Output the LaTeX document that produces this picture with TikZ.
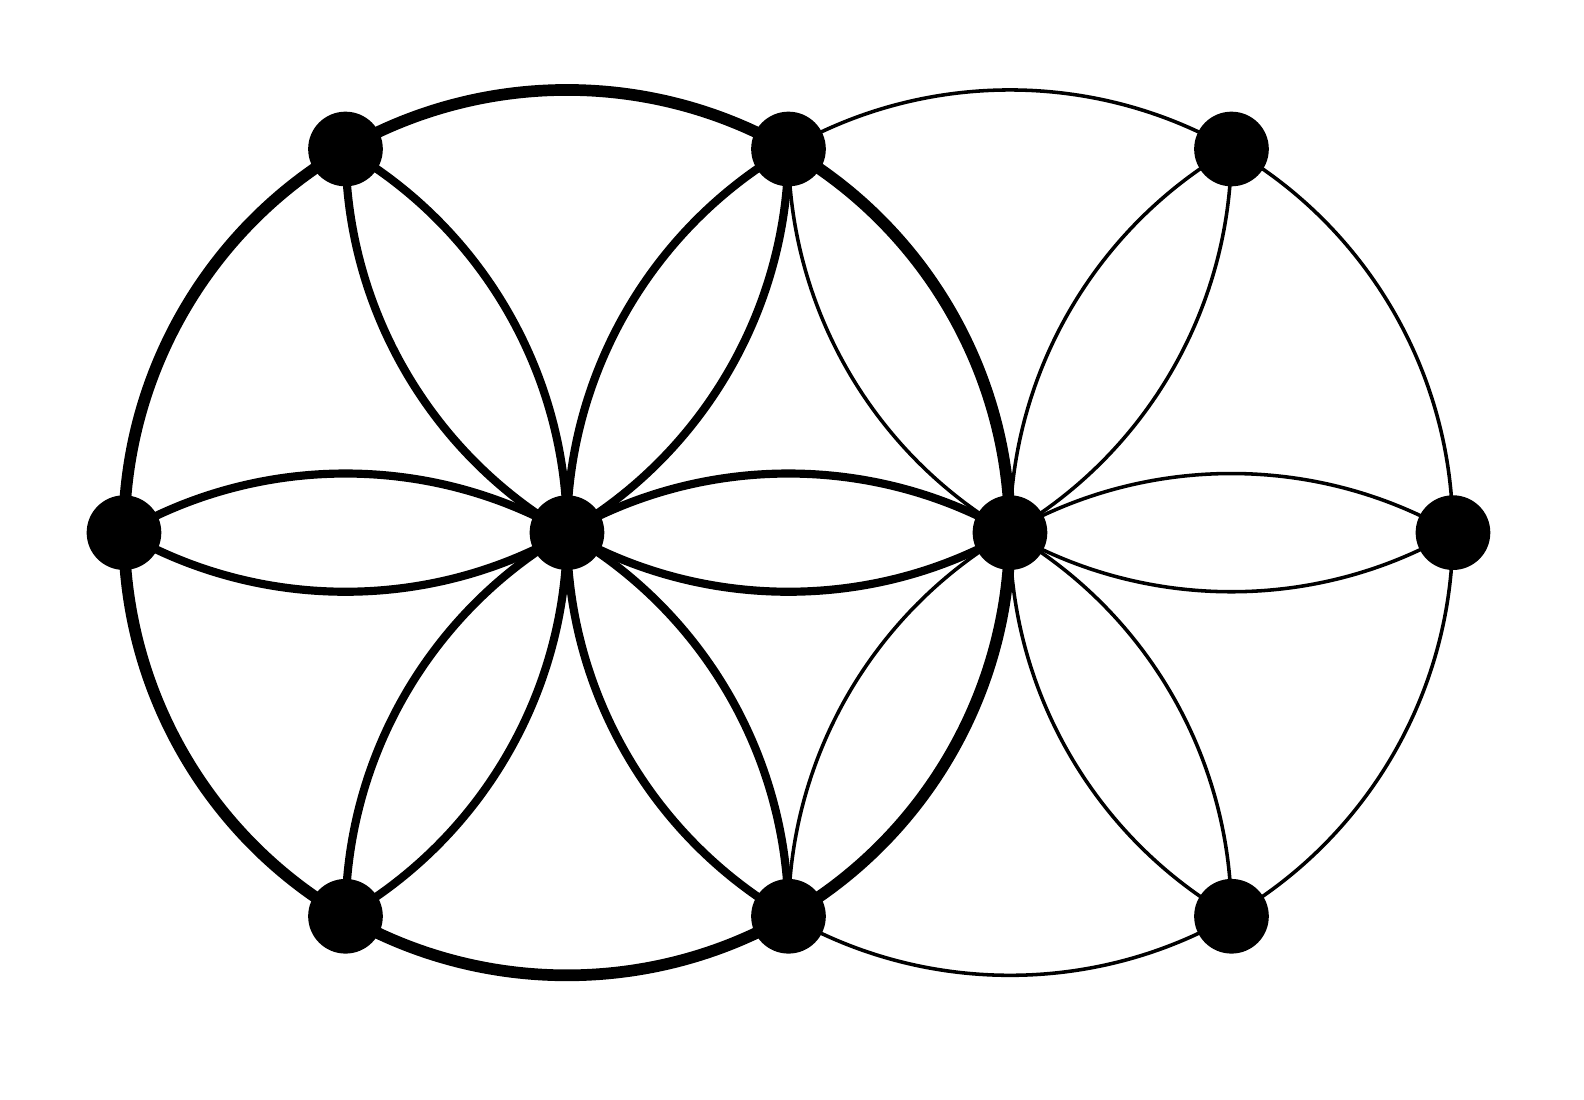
\documentclass[tikz,border=0pt]{standalone}
\usetikzlibrary{calc}
\tikzstyle{dot}=[%
  circle,
  fill=black,
  inner sep=0pt,
  minimum size=0.74cm
]
\tikzstyle{rim}=[line width=3.3pt]
\tikzstyle{petal}=[line width=2.3pt]
\tikzstyle{fine}=[line width=1pt]
\tikzstyle{lobe}=[looseness=0.9126]

\begin{document}
\begin{tikzpicture}[scale=4.39]
      \useasboundingbox (-1.2799, -1.2785) rectangle (2.2958, 1.2024);
      \foreach \name/\pos in {l/{(-1,0)}, m1/{(0,0)}, m2/{(1,0)}, r/{(2,0)},
          a/{(-0.5,0.866)}, b/{(0.5,0.866)}, c/{(1.5,0.866)},
          d/{(-0.5,-0.866)}, e/{(0.5,-0.866)}, f/{(1.5,-0.866)}} {%
        \node[dot] (\name) at \pos {};
      }
      % right rosette, thin
      \foreach \x in {b, c, r, f, e, m1} {%
        \draw[fine, lobe, bend left=30] (m2.center) to (\x.center);
        \draw[fine, lobe, bend right=30] (m2.center) to (\x.center);
      }
      \foreach \u/\v in {b/c, c/r, r/f, f/e} {%
        \draw[fine, lobe, bend left=30] (\u.center) to (\v.center);
      }
      % left rosette
      \foreach \x in {l, a, b, m2, e, d} {%
        \draw[petal, lobe, bend left=30] (m1.center) to (\x.center);
        \draw[petal, lobe, bend right=30] (m1.center) to (\x.center);
      }
      \foreach \u/\v in {l/a, a/b, b/m2, m2/e, e/d, d/l} {%
        \draw[rim, lobe, bend left=30] (\u.center) to (\v.center);
      }
    \end{tikzpicture}
\end{document}
